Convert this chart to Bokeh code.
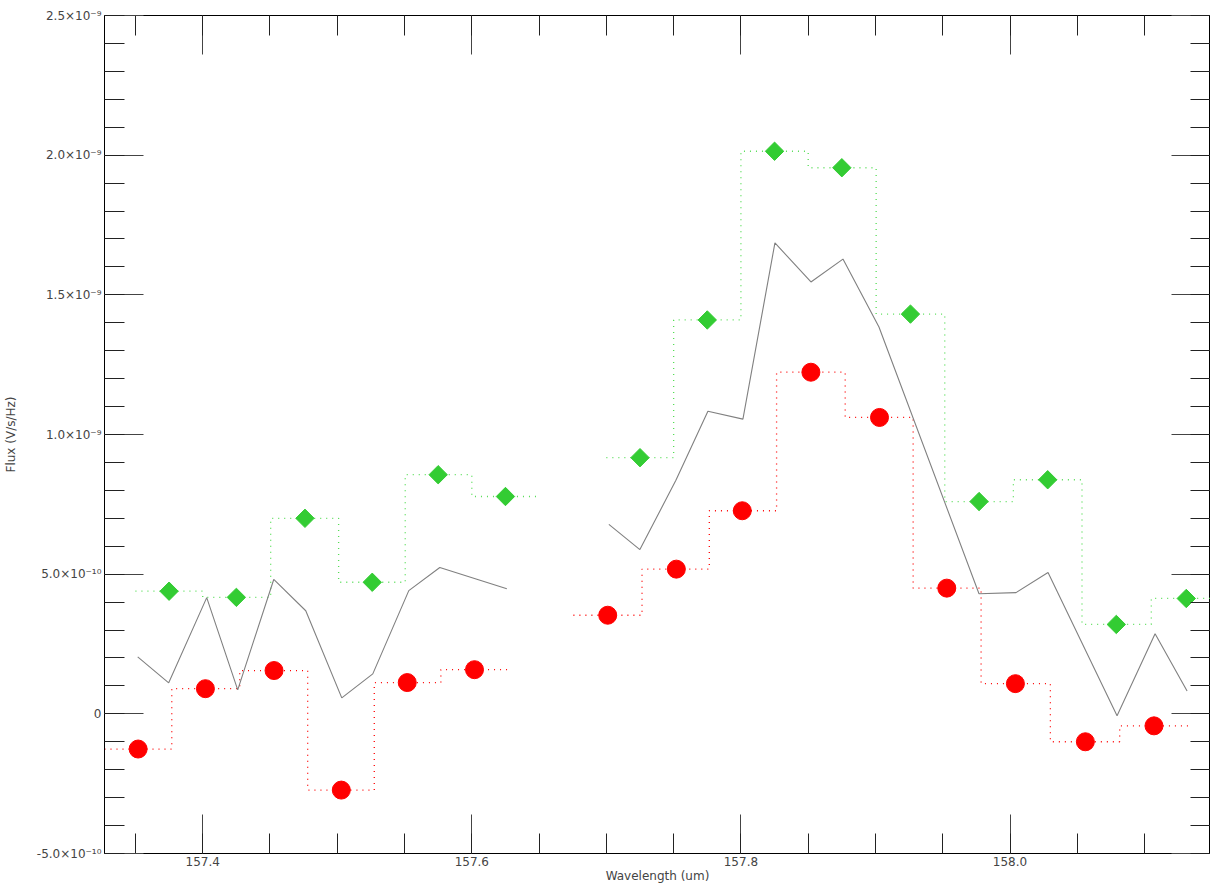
import numpy as np
from bokeh.plotting import figure
from bokeh.models import LinearAxis, Range1d, CustomJSTickFormatter, FixedTicker
from bokeh.embed import file_html
from bokeh.resources import INLINE

# red (circles), two segments
red_x1 = [157.352, 157.402, 157.453, 157.503, 157.552, 157.602]
red_y1 = [-1.26e-10, 0.90e-10, 1.55e-10, -2.73e-10, 1.12e-10, 1.58e-10]
red_x2 = [157.701, 157.752, 157.801, 157.852, 157.903, 157.953, 158.004, 158.056, 158.107]
red_y2 = [3.53e-10, 5.18e-10, 7.27e-10, 12.23e-10, 10.61e-10, 4.50e-10, 1.08e-10, -1.0e-10, -0.43e-10]
# green (diamonds)
grn_x1 = [157.375, 157.425, 157.476, 157.526, 157.575, 157.625]
grn_y1 = [4.39e-10, 4.17e-10, 7.0e-10, 4.71e-10, 8.56e-10, 7.78e-10]
grn_x2 = [157.725, 157.775, 157.825, 157.875, 157.926, 157.977, 158.028, 158.079, 158.131]
grn_y2 = [9.17e-10, 14.1e-10, 20.14e-10, 19.55e-10, 14.31e-10, 7.6e-10, 8.38e-10, 3.2e-10, 4.13e-10]
# gray line
gry_px1 = [137, 168, 206, 237, 273, 305, 341, 372, 408, 439, 506]
gry_y1 = [2.04, 1.11, 4.16, 0.86, 4.81, 3.69, 0.57, 1.43, 4.41, 5.24, 4.48]
gry_px2 = [608, 639, 675, 707, 742, 774, 810, 842, 878, 978, 1015, 1047, 1116, 1154, 1186]
gry_y2 = [6.78, 5.88, 8.36, 10.83, 10.55, 16.86, 15.46, 16.28, 13.85, 4.30, 4.34, 5.06, -0.07, 2.87, 0.82]
gry_x1 = [157.4 + (v - 202) / 1345 for v in gry_px1]
gry_x2 = [157.4 + (v - 202) / 1345 for v in gry_px2]

p = figure(width=1210, height=885, output_backend="svg", toolbar_location=None,
           x_range=Range1d(157.327, 158.149), y_range=Range1d(-5e-10, 2.5e-9),
           min_border_left=0, min_border_right=0, min_border_top=15, min_border_bottom=0,
           x_axis_location=None, y_axis_location=None)
p.grid.visible = False
p.outline_line_color = "black"
p.background_fill_color = "white"

def step_edges(xs, ys):
    xs = np.array(xs); ys = np.array(ys)
    d = np.diff(xs)
    mids = (xs[:-1] + xs[1:]) / 2
    edges = np.concatenate([[xs[0] - d[0] / 2], mids, [xs[-1] + d[-1] / 2]])
    sx, sy = [], []
    for i in range(len(xs)):
        sx += [edges[i], edges[i + 1]]
        sy += [ys[i], ys[i]]
    return sx, sy

for xs, ys in [(red_x1, red_y1), (red_x2, red_y2)]:
    sx, sy = step_edges(xs, ys)
    p.line(sx, sy, line_color="red", line_dash="1 5", line_width=1.3)
    p.scatter(xs, ys, size=18, color="red", marker="circle")
for xs, ys in [(grn_x1, grn_y1), (grn_x2, grn_y2)]:
    sx, sy = step_edges(xs, ys)
    p.line(sx, sy, line_color="#55dd55", line_dash="1 5", line_width=1.3)
    p.scatter(xs, ys, size=13, color="#33cc33", marker="square", angle=np.pi / 4)
for xs, ys in [(gry_x1, gry_y1), (gry_x2, gry_y2)]:
    p.line(xs, [v * 1e-10 for v in ys], line_color="gray", line_width=1.1)

yfmt = CustomJSTickFormatter(code="""
if (Math.abs(tick) < 1e-15) return '0';
const e = Math.floor(Math.log10(Math.abs(tick)) + 1e-9);
const m = tick / Math.pow(10, e);
const sup = {'-':'\u207b','0':'\u2070','1':'\u00b9','2':'\u00b2','3':'\u00b3','4':'\u2074','5':'\u2075','6':'\u2076','7':'\u2077','8':'\u2078','9':'\u2079'};
const es = String(e).split('').map(c => sup[c]).join('');
return m.toFixed(1) + '\u00d710' + es;
""")
xfmt = CustomJSTickFormatter(code="return tick.toFixed(1);")
blank = CustomJSTickFormatter(code="return '';")
yt = FixedTicker(ticks=[-5e-10, 0, 5e-10, 1e-9, 1.5e-9, 2e-9, 2.5e-9],
                 minor_ticks=[i * 1e-10 for i in range(-5, 26)])
xt = FixedTicker(ticks=[157.4, 157.6, 157.8, 158.0],
                 minor_ticks=[157.3 + 0.05 * i for i in range(20)])

def style(ax):
    ax.major_tick_in = 39; ax.major_tick_out = 0
    ax.minor_tick_in = 20; ax.minor_tick_out = 0
    ax.axis_line_color = "black"
    ax.major_tick_line_color = "#444444"; ax.minor_tick_line_color = "#222222"
    ax.major_label_text_font = "DejaVu Sans"
    ax.major_label_text_font_size = "12px"
    ax.axis_label_text_font = "DejaVu Sans"
    ax.axis_label_text_font_size = "12px"
    ax.axis_label_text_font_style = "normal"
    ax.major_label_standoff = 3
    ax.axis_label_standoff = 0

left = LinearAxis(ticker=yt, formatter=yfmt, axis_label="Flux (V/s/Hz)")
style(left); left.axis_label_standoff = 16
p.add_layout(left, "left")
right = LinearAxis(ticker=yt, formatter=blank); style(right)
right.major_label_standoff = 0
p.add_layout(right, "right")
bottom = LinearAxis(ticker=xt, formatter=xfmt, axis_label="Wavelength (um)")
style(bottom)
p.add_layout(bottom, "below")
top = LinearAxis(ticker=xt, formatter=blank); style(top)
top.major_label_standoff = 0
p.add_layout(top, "above")

open("out.html", "w").write(file_html(p, INLINE))
